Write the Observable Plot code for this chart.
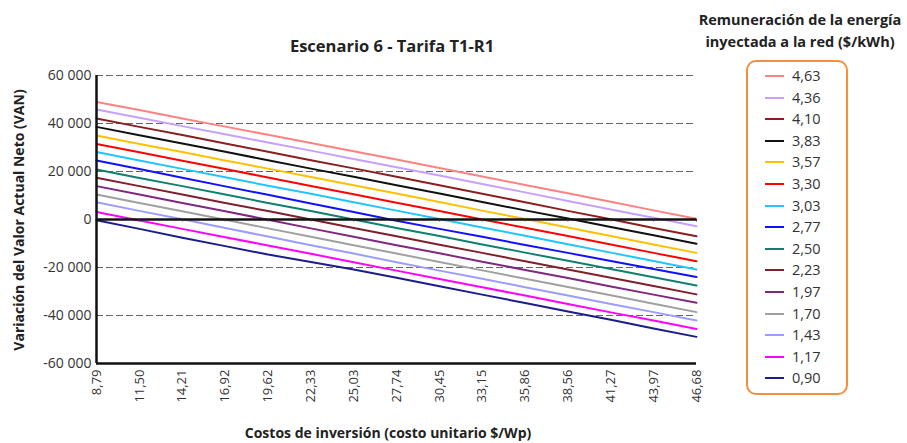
<!DOCTYPE html>
<html>
<head>
<meta charset="utf-8">
<script src="https://cdn.jsdelivr.net/npm/d3@7"></script>
<script src="https://cdn.jsdelivr.net/npm/@observablehq/plot@0.6"></script>
<style>
  html, body { margin: 0; padding: 0; background: #fff; }
  #wrap { position: relative; width: 907px; height: 443px; overflow: hidden; font-family: "Open Sans", sans-serif; color: #222; }
  #title { position: absolute; left: 0; top: 45px; width: 784px; text-align: center; font-weight: 700; font-size: 16.5px; transform: translateY(-50%); white-space: nowrap; }
  #chart { position: absolute; left: 0; top: 55px; }
  #ylab { position: absolute; left: 18px; top: 220px; transform: translate(-50%, -50%) rotate(-90deg); white-space: nowrap; font-weight: 700; font-size: 14px; }
  #xlab { position: absolute; left: 388px; top: 432px; transform: translate(-50%, -50%); white-space: nowrap; font-weight: 700; font-size: 14px; }
  #legtitle { position: absolute; left: 690px; width: 220px; top: 9px; text-align: center; font-weight: 700; font-size: 14.5px; line-height: 22px; white-space: nowrap; }
  #legend { position: absolute; left: 746px; top: 60px; width: 98px; height: 331px; border: 2px solid #F4903A; border-radius: 10px; }
  .item { position: absolute; left: 0; height: 20px; width: 98px; }
  .sw { position: absolute; left: 17px; top: 9px; width: 19px; height: 2px; }
  .lb { position: absolute; left: 44px; top: 0; font-size: 14.5px; line-height: 20px; color: #333; }
</style>
</head>
<body>
<div id="wrap">
  <div id="title">Escenario 6 - Tarifa T1-R1</div>
  <div id="chart"></div>
  <div id="ylab">Variación del Valor Actual Neto (VAN)</div>
  <div id="xlab">Costos de inversión (costo unitario $/Wp)</div>
  <div id="legtitle">Remuneración de la energía<br>inyectada a la red ($/kWh)</div>
  <div id="legend"></div>
</div>
<script>
// Costos de inversión (costo unitario $/Wp)
const costs = [8.79, 11.50, 14.21, 16.92, 19.62, 22.33, 25.03, 27.74, 30.45, 33.15, 35.86, 38.56, 41.27, 43.97, 46.68];
// Remuneración de la energía inyectada a la red ($/kWh)
const tarifas = ["4,63", "4,36", "4,10", "3,83", "3,57", "3,30", "3,03", "2,77", "2,50", "2,23", "1,97", "1,70", "1,43", "1,17", "0,90"];
const colors = ["#FF8282", "#C7A0FF", "#8B1F1F", "#111111", "#FFC000", "#FF0000", "#20C4FF", "#1010FF", "#0F8070", "#7E1F2A", "#80287F", "#A0A0A0", "#9C9CFF", "#FF00FF", "#1C1C8A"];
const yTicks = [60000, 40000, 20000, 0, -20000, -40000, -60000];
const gridVals = [60000, 40000, 20000, -20000, -40000];

// VAN series (one per tarifa)
const v463 = [49000, 45600, 42100, 38700, 35300, 31900, 28400, 25000, 21500, 17900, 14400, 10900, 7400, 3800, 300];
const v436 = [45800, 42400, 38900, 35500, 32100, 28700, 25200, 21800, 18300, 14800, 11300, 7700, 4200, 700, -2800];
const v410 = [42100, 38600, 35200, 31700, 28200, 24700, 21300, 17800, 14300, 10700, 7200, 3600, 100, -3500, -7000];
const v383 = [38600, 35100, 31700, 28200, 24700, 21200, 17800, 14300, 10800, 7300, 3800, 400, -3100, -6600, -10100];
const v357 = [35000, 31500, 28100, 24600, 21200, 17700, 14300, 10800, 7300, 3700, 200, -3300, -6900, -10400, -13900];
const v330 = [31500, 28000, 24500, 21000, 17500, 14000, 10500, 7000, 3500, 0, -3400, -6900, -10400, -13900, -17400];
const v303 = [28100, 24600, 21100, 17600, 14100, 10700, 7200, 3700, 200, -3300, -6800, -10300, -13800, -17300, -20800];
const v277 = [24600, 21000, 17400, 13800, 10300, 6700, 3100, -500, -3900, -7200, -10600, -13900, -17300, -20600, -24000];
const v250 = [20800, 17300, 13900, 10400, 6900, 3500, 0, -3500, -6900, -10400, -13800, -17200, -20600, -24100, -27500];
const v223 = [17400, 13900, 10400, 6900, 3500, 0, -3500, -7000, -10500, -13900, -17400, -20800, -24300, -27700, -31200];
const v197 = [13900, 10400, 6900, 3400, -100, -3700, -7200, -10700, -14100, -17600, -21000, -24400, -27900, -31300, -34700];
const v170 = [10400, 6900, 3400, -100, -3700, -7200, -10700, -14200, -17700, -21200, -24700, -28100, -31600, -35100, -38600];
const v143 = [7200, 3600, 100, -3500, -7100, -10700, -14200, -17800, -21300, -24700, -28200, -31700, -35200, -38600, -42100];
const v117 = [3100, -400, -3900, -7400, -10800, -14300, -17800, -21300, -24800, -28200, -31700, -35200, -38700, -42100, -45600];
const v090 = [-300, -3900, -7600, -11100, -14600, -17700, -20800, -24300, -27800, -31300, -34800, -38300, -41800, -45400, -48900];

const series = [v463, v436, v410, v383, v357, v330, v303, v277, v250, v223, v197, v170, v143, v117, v090];

const rows = [];
series.forEach((vals, i) => vals.forEach((v, j) => rows.push({tarifa: tarifas[i], cost: costs[j], van: v})));

const fmtY = d => d3.format(",")(d).replace(/,/g, " ").replace("−", "-");
const fmtX = d => d.toFixed(2).replace(".", ",");

const chart = Plot.plot({
  width: 720,
  height: 388,
  marginLeft: 96,
  marginRight: 24,
  marginTop: 20,
  marginBottom: 80,
  style: {fontFamily: "Open Sans, sans-serif", fontSize: "13px", color: "#333", background: "transparent"},
  x: {domain: [costs[0], costs[costs.length - 1]], axis: null},
  y: {domain: [-60000, 60000], axis: null},
  color: {domain: tarifas, range: colors},
  marks: [
    Plot.ruleY(gridVals, {stroke: "#666", strokeWidth: 1.2, strokeDasharray: "7,3"}),
    Plot.line(rows, {x: "cost", y: "van", z: "tarifa", stroke: "tarifa", strokeWidth: 2}),
    Plot.ruleY([0], {stroke: "#111", strokeWidth: 2.5}),
    Plot.ruleX(costs.slice(1), {y1: 0, y2: -1000, stroke: "#333", strokeWidth: 1}),
    Plot.ruleX([costs[0]], {stroke: "#111", strokeWidth: 2.5}),
    Plot.ruleY([-60000], {stroke: "#111", strokeWidth: 2.5}),
    Plot.axisY({ticks: yTicks, tickFormat: fmtY, tickSize: 0, tickPadding: 5, fontSize: 14, label: null}),
    Plot.axisX({ticks: costs, tickFormat: fmtX, tickRotate: -90, tickSize: 0, tickPadding: 6, fontSize: 13, label: null})
  ]
});
document.getElementById("chart").appendChild(chart);

// Legend
const leg = document.getElementById("legend");
tarifas.forEach((t, i) => {
  const it = document.createElement("div");
  it.className = "item";
  it.style.top = (4 + i * 21.6) + "px";
  const sw = document.createElement("div");
  sw.className = "sw";
  sw.style.background = colors[i];
  const lb = document.createElement("div");
  lb.className = "lb";
  lb.textContent = t;
  it.appendChild(sw); it.appendChild(lb);
  leg.appendChild(it);
});
</script>
</body>
</html>
